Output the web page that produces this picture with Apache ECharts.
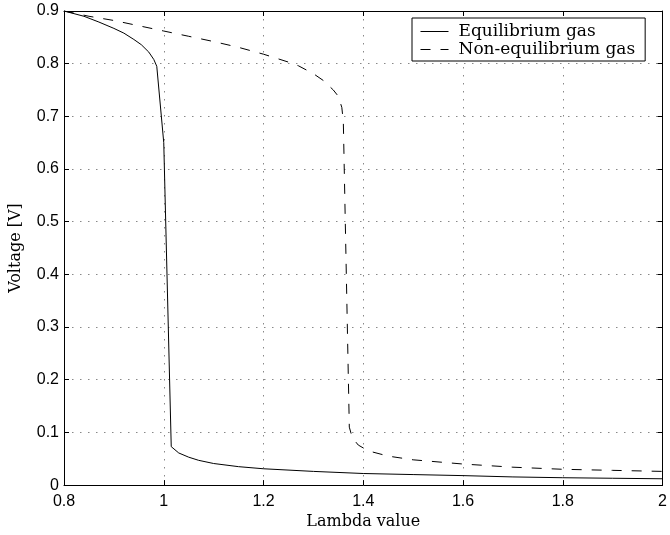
<!DOCTYPE html>
<html>
<head>
<meta charset="utf-8">
<script src="https://cdn.jsdelivr.net/npm/echarts@6/dist/echarts.min.js"></script>
<style>html,body{margin:0;padding:0;background:#fff}#c{width:670px;height:535px}</style>
</head>
<body>
<div id="c"></div>
<script>
// Equilibrium gas (solid)
const eqX = [0.8, 0.84, 0.87, 0.9, 0.92, 0.94, 0.955, 0.97, 0.98, 0.986, 1.0, 1.015, 1.03, 1.05, 1.07, 1.1, 1.15, 1.2, 1.3, 1.4, 1.5, 1.6, 1.7, 1.8, 1.9, 2.0];
const eqY = [0.9, 0.890, 0.879, 0.867, 0.858, 0.846, 0.836, 0.822, 0.808, 0.795, 0.65, 0.073, 0.061, 0.053, 0.047, 0.041, 0.035, 0.031, 0.026, 0.022, 0.020, 0.018, 0.0155, 0.014, 0.013, 0.012];
// Non-equilibrium gas (dashed)
const neqX = [0.8, 0.85, 0.9, 0.95, 1.0, 1.05, 1.1, 1.15, 1.2, 1.25, 1.27, 1.3, 1.32, 1.34, 1.35, 1.357, 1.36, 1.372, 1.378, 1.39, 1.41, 1.45, 1.5, 1.6, 1.7, 1.8, 1.9, 2.0];
const neqY = [0.9, 0.89, 0.882, 0.872, 0.862, 0.852, 0.842, 0.831, 0.818, 0.803, 0.796, 0.781, 0.768, 0.750, 0.738, 0.717, 0.69, 0.11, 0.09, 0.076, 0.065, 0.055, 0.048, 0.040, 0.034, 0.030, 0.028, 0.026];
const seriesNames = ['Equilibrium gas', 'Non-equilibrium gas'];
const xTicks = {min: 0.8, max: 2.0, step: 0.2};
const yTicks = {min: 0, max: 0.9, step: 0.1};
const xName = 'Lambda value';
const yName = 'Voltage [V]';

const pairs = (xs, ys) => xs.map((x, i) => [x, ys[i]]);
const sans = 'Liberation Sans';
const serif = 'DejaVu Serif';
const gridLine = {show: true, lineStyle: {color: '#888', type: [1.5, 6.5], width: 1}};
const axisLine = {show: true, onZero: false, lineStyle: {color: '#000', width: 1}};
const tick = {show: true, inside: true, length: 5, lineStyle: {color: '#000'}};

const chart = echarts.init(document.getElementById('c'), null, {renderer: 'canvas'});
chart.setOption({
  animation: false,
  backgroundColor: '#fff',
  grid: {left: 63, right: 3, top: 11, bottom: 48, containLabel: false},
  legend: {
    orient: 'vertical', left: 412, top: 18,
    padding: [5, 10, 3, 8], itemGap: 1, itemWidth: 28, itemHeight: 14,
    borderColor: '#000', borderWidth: 1, backgroundColor: '#fff',
    itemStyle: {opacity: 0},
    lineStyle: {width: 1},
    textStyle: {fontFamily: serif, fontSize: 17, color: '#000', lineHeight: 17, padding: [0, 0, 0, 5]},
    data: seriesNames
  },
  xAxis: [
    {type: 'value', min: xTicks.min, max: xTicks.max, interval: xTicks.step,
     name: xName, nameLocation: 'middle', nameGap: 25,
     nameTextStyle: {fontFamily: serif, fontSize: 16, color: '#000'},
     axisLine: axisLine, axisTick: tick, splitLine: gridLine,
     axisLabel: {fontFamily: sans, fontSize: 16, color: '#000', margin: 8}},
    {type: 'value', position: 'top', min: xTicks.min, max: xTicks.max, interval: xTicks.step,
     axisLine: axisLine, axisTick: tick, splitLine: {show: false}, axisLabel: {show: false}}
  ],
  yAxis: [
    {type: 'value', min: yTicks.min, max: yTicks.max, interval: yTicks.step,
     name: yName, nameLocation: 'middle', nameGap: 40,
     nameTextStyle: {fontFamily: serif, fontSize: 16, color: '#000'},
     axisLine: axisLine, axisTick: tick, splitLine: gridLine,
     axisLabel: {fontFamily: sans, fontSize: 16, color: '#000', margin: 5}},
    {type: 'value', position: 'right', min: yTicks.min, max: yTicks.max, interval: yTicks.step,
     axisLine: axisLine, axisTick: tick, splitLine: {show: false}, axisLabel: {show: false}}
  ],
  series: [
    {name: seriesNames[0], type: 'line', data: pairs(eqX, eqY), symbol: 'none', smooth: false,
     lineStyle: {color: '#000', width: 1, type: 'solid'}, itemStyle: {color: '#000'}},
    {name: seriesNames[1], type: 'line', data: pairs(neqX, neqY), symbol: 'none', smooth: false,
     lineStyle: {color: '#000', width: 1, type: [10, 10]}, itemStyle: {color: '#000'}}
  ]
});
</script>
</body>
</html>
